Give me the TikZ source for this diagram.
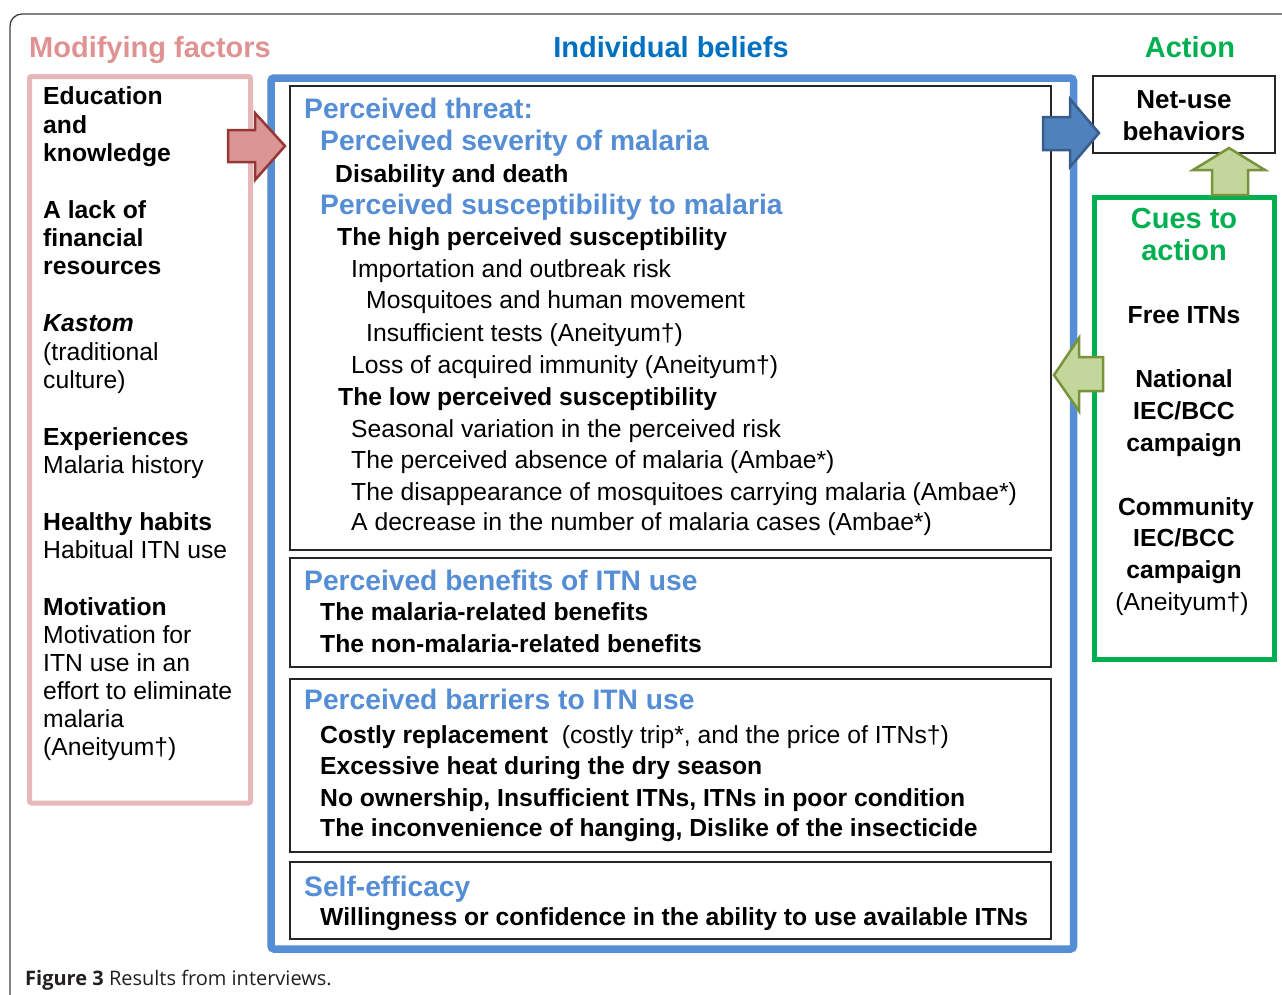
\documentclass[tikz,border=0pt]{standalone}
\usepackage{fontspec}
\setmainfont{Liberation Sans}
\newfontfamily\capfont{Open Sans}
\definecolor{pinkT}{RGB}{224,146,146}
\definecolor{pinkB}{RGB}{230,185,184}
\definecolor{blueB}{RGB}{85,142,213}
\definecolor{blueT}{RGB}{0,112,192}
\definecolor{greenT}{RGB}{0,176,80}
\definecolor{arrPinkF}{RGB}{217,150,148}
\definecolor{arrPinkD}{RGB}{149,55,53}
\definecolor{arrBlueF}{RGB}{79,129,189}
\definecolor{arrBlueD}{RGB}{56,93,138}
\definecolor{arrGreenF}{RGB}{195,214,155}
\definecolor{arrGreenD}{RGB}{119,147,60}
\definecolor{capC}{RGB}{35,31,32}
\newcommand\myBody{\fontsize{24.7}{28}\selectfont}
\newcommand\myHead{\fontsize{28.2}{32}\selectfont\bfseries}
\newcommand\myTitle{\fontsize{29}{34}\selectfont\bfseries}
\tikzset{
  lt/.style={anchor=base west, inner sep=0pt, font=\myBody},
  lb/.style={anchor=base west, inner sep=0pt, font=\myBody\bfseries},
  hd/.style={anchor=base west, inner sep=0pt, font=\myHead, text=blueB},
  ttl/.style={anchor=base, inner sep=0pt, font=\myTitle},
  cb/.style={anchor=base, inner sep=0pt, font=\myBody\bfseries},
  ct/.style={anchor=base, inner sep=0pt, font=\myBody},
  inbox/.style={draw=black!85, line width=1.3pt},
  blockarrow/.style={line width=2.5pt, line join=miter},
}
\begin{document}
\begin{tikzpicture}[x=1pt,y=-1pt]
\useasboundingbox (0,0) rectangle (1282,994);
\clip (0,0) rectangle (1282,994);
% outer frame
\draw[black!75, line width=1.3pt, rounded corners=12pt] (10,1010) -- (10,14) -- (1300,14);
% titles
\node[ttl, text=pinkT] (tmod) at (150,57) {Modifying factors};
\node[ttl, text=blueT] (tind) at (671,57) {Individual beliefs};
\node[ttl, text=greenT] (tact) at (1190,57) {Action};
% main boxes
\draw[pinkB, line width=5pt, rounded corners=2pt] (29.5,76.5) rectangle (250.5,803);
\draw[blueB, line width=7.5pt, rounded corners=3pt] (271,78) rectangle (1073.5,949);
\draw[inbox] (290,86) rectangle (1051,550);
\draw[inbox] (290,558) rectangle (1051,667);
\draw[inbox] (290,679) rectangle (1051,852);
\draw[inbox] (290,862) rectangle (1051,939);
\draw[inbox] (1093,76) rectangle (1275,153);
\draw[greenT, line width=5pt] (1094.5,197.5) rectangle (1274.5,659);
% modifying factors text
\node[lb] (m1) at (43,104.5) {Education};
\node[lb] (m2) at (43,133) {and};
\node[lb] (m3) at (43,161.5) {knowledge};
\node[lb] (m4) at (43,218.5) {A lack of};
\node[lb] (m5) at (43,246.5) {financial};
\node[lb] (m6) at (43,274.5) {resources};
\node[lb] (m7) at (43,331.5) {\itshape Kastom};
\node[lt] (m8) at (43,360.5) {(traditional};
\node[lt] (m9) at (43,388.5) {culture)};
\node[lb] (m10) at (43,445.5) {Experiences};
\node[lt] (m11) at (43,473.5) {Malaria history};
\node[lb] (m12) at (43,530.5) {Healthy habits};
\node[lt] (m13) at (43,558.5) {Habitual ITN use};
\node[lb] (m14) at (43,615.5) {Motivation};
\node[lt] (m15) at (43,643.5) {Motivation for};
\node[lt] (m16) at (43,671.5) {ITN use in an};
\node[lt] (m17) at (43,699.5) {effort to eliminate};
\node[lt] (m18) at (43,727.5) {malaria};
\node[lt] (m19) at (43,755.5) {(Aneityum†)};
% perceived threat
\node[hd] (th1) at (304,118) {Perceived threat:};
\node[hd] (th2) at (320,150) {Perceived severity of malaria};
\node[lb] (th3) at (335,182) {Disability and death};
\node[hd] (th4) at (320,214) {Perceived susceptibility to malaria};
\node[lb] (th5) at (337,245) {The high perceived susceptibility};
\node[lt] (th6) at (351,277) {Importation and outbreak risk};
\node[lt] (th7) at (366,308) {Mosquitoes and human movement};
\node[lt] (th8) at (366,341) {Insufficient tests (Aneityum†)};
\node[lt] (th9) at (351,373) {Loss of acquired immunity (Aneityum†)};
\node[lb] (th10) at (338,405) {The low perceived susceptibility};
\node[lt] (th11) at (351,437) {Seasonal variation in the perceived risk};
\node[lt] (th12) at (351,468) {The perceived absence of malaria (Ambae*)};
\node[lt] (th13) at (351,500) {The disappearance of mosquitoes carrying malaria (Ambae*)};
\node[lt] (th14) at (351,530) {A decrease in the number of malaria cases (Ambae*)};
% benefits
\node[hd] (be1) at (304,590) {Perceived benefits of ITN use};
\node[lb] (be2) at (320,620) {The malaria-related benefits};
\node[lb] (be3) at (320,652) {The non-malaria-related benefits};
% barriers
\node[hd] (ba1) at (304,709) {Perceived barriers to ITN use};
\node[lt] (ba2) at (320,743) {\bfseries Costly replacement\mdseries\ \ (costly trip*, and the price of ITNs†)};
\node[lb] (ba3) at (320,774) {Excessive heat during the dry season};
\node[lb] (ba4) at (320,806) {No ownership, Insufficient ITNs, ITNs in poor condition};
\node[lb] (ba5) at (320,836) {The inconvenience of hanging, Dislike of the insecticide};
% self-efficacy
\node[hd] (se1) at (304,896) {Self-efficacy};
\node[lb] (se2) at (320,925) {Willingness or confidence in the ability to use available ITNs};
% action
\node[anchor=base, inner sep=0pt, font=\fontsize{26}{30}\selectfont\bfseries] (nu1) at (1184,108) {Net-use};
\node[anchor=base, inner sep=0pt, font=\fontsize{26}{30}\selectfont\bfseries] (nu2) at (1184,140) {behaviors};
\node[anchor=base, inner sep=0pt, font=\fontsize{29}{32}\selectfont\bfseries, text=greenT] (cu1) at (1184,228) {Cues to};
\node[anchor=base, inner sep=0pt, font=\fontsize{29}{32}\selectfont\bfseries, text=greenT] (cu2) at (1184,260) {action};
\node[cb] (c1) at (1184,323) {Free ITNs};
\node[cb] (c2) at (1184,387) {National};
\node[cb] (c3) at (1184,419) {IEC/BCC};
\node[cb] (c4) at (1184,451) {campaign};
\node[cb] (c5) at (1186,515) {Community};
\node[cb] (c6) at (1184,546) {IEC/BCC};
\node[cb] (c7) at (1184,578) {campaign};
\node[ct] (c8) at (1182,610) {(Aneityum†)};
% block arrows
\filldraw[blockarrow, fill=arrPinkF, draw=arrPinkD] (228,130) -- (255,130) -- (255,113) -- (285,146) -- (255,180) -- (255,162) -- (228,162) -- cycle;
\filldraw[blockarrow, fill=arrBlueF, draw=arrBlueD] (1043,117) -- (1070,117) -- (1070,99) -- (1099,133) -- (1070,167) -- (1070,150) -- (1043,150) -- cycle;
\filldraw[blockarrow, fill=arrGreenF, draw=arrGreenD] (1212,195) -- (1212,170) -- (1193,170) -- (1229,148) -- (1265,170) -- (1248,170) -- (1248,195) -- cycle;
\filldraw[blockarrow, fill=arrGreenF, draw=arrGreenD] (1054,375) -- (1079,338) -- (1079,357) -- (1103,357) -- (1103,391) -- (1079,391) -- (1079,411) -- cycle;
% caption
\node[anchor=base west, inner sep=0pt, font=\capfont\fontsize{20}{23}\selectfont, text=capC] (cap) at (25,985) {\textbf{Figure 3} Results from interviews.};
\end{tikzpicture}
\end{document}
